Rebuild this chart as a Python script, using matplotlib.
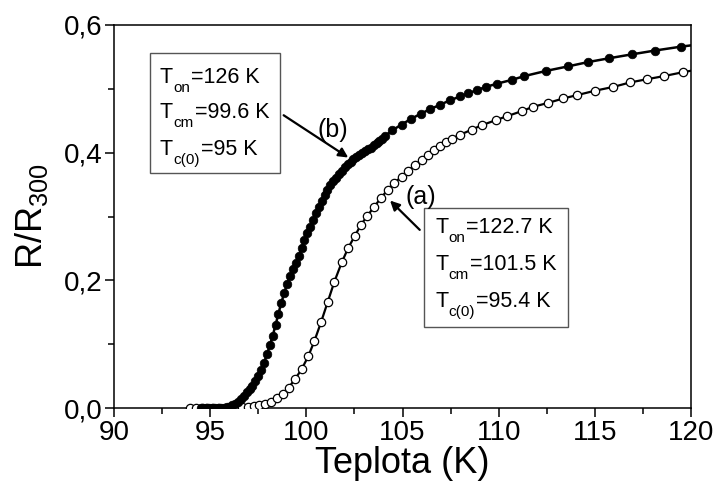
import matplotlib
matplotlib.use("Agg")
import matplotlib.pyplot as plt
from matplotlib.patches import Rectangle

# ---------------- data ----------------
T_b = [94.5, 94.65, 94.8, 94.95, 95.1, 95.25, 95.4, 95.55, 95.7, 95.85,
       96.0, 96.15, 96.3, 96.45, 96.6, 96.75, 96.9, 97.05, 97.2, 97.35,
       97.5, 97.65, 97.8, 97.95, 98.1, 98.25, 98.4, 98.55, 98.7, 98.85,
       99.0, 99.15, 99.3, 99.45, 99.6, 99.75, 99.9, 100.05, 100.2, 100.35,
       100.5, 100.65, 100.8, 100.95, 101.1, 101.25, 101.4, 101.55, 101.7, 101.85,
       102.0, 102.15, 102.3, 102.45, 102.6, 102.75, 102.9, 103.05, 103.2, 103.35,
       103.5, 103.65, 103.8, 103.95, 104.1,
       104.47, 104.95, 105.45, 105.95, 106.43, 106.95, 107.47, 107.99, 108.42, 108.86,
       109.34, 109.9, 110.68, 111.34, 112.45, 113.58, 114.66, 115.76, 116.92, 118.13,
       119.46, 120.5]
R_b = [0.0, 0.0, 0.0, 0.0, 0.0, 0.0, 0.0, 0.0, 0.0, 0.001,
       0.002, 0.004, 0.007, 0.010, 0.014, 0.019, 0.025, 0.030, 0.035, 0.042,
       0.050, 0.060, 0.071, 0.084, 0.098, 0.113, 0.130, 0.148, 0.165, 0.180,
       0.195, 0.207, 0.217, 0.227, 0.238, 0.251, 0.263, 0.274, 0.284, 0.295,
       0.305, 0.315, 0.325, 0.334, 0.342, 0.349, 0.355, 0.361, 0.367, 0.372,
       0.377, 0.382, 0.386, 0.390, 0.393, 0.396, 0.399, 0.402, 0.405, 0.408,
       0.412, 0.415, 0.419, 0.422, 0.426,
       0.435, 0.444, 0.453, 0.461, 0.468, 0.475, 0.482, 0.488, 0.493, 0.498,
       0.503, 0.508, 0.514, 0.520, 0.528, 0.535, 0.542, 0.548, 0.554, 0.560,
       0.566, 0.570]

T_a = [93.95, 94.25, 94.55, 94.85, 95.15, 95.45, 95.75, 96.05, 96.35, 96.65,
       96.98, 97.28, 97.55, 97.85, 98.15, 98.46, 98.77, 99.08, 99.41, 99.76,
       100.1, 100.42, 100.76, 101.11, 101.46, 101.84, 102.18, 102.53, 102.84, 103.17,
       103.52, 103.88, 104.23, 104.57, 104.96, 105.3, 105.65, 106.0, 106.34, 106.64,
       106.95, 107.26, 107.56, 107.99, 108.6, 109.12, 109.86, 110.42, 111.2, 111.8,
       112.58, 113.36, 114.06, 115.0, 115.96, 116.83, 117.7, 118.6, 119.57, 120.5]
R_a = [0.0, 0.0, 0.0, 0.0, 0.0, 0.0, 0.0, 0.0, 0.0, 0.001,
       0.002, 0.003, 0.005, 0.007, 0.010, 0.015, 0.022, 0.032, 0.045, 0.061,
       0.081, 0.105, 0.134, 0.166, 0.198, 0.228, 0.251, 0.270, 0.287, 0.301,
       0.315, 0.329, 0.342, 0.353, 0.362, 0.372, 0.381, 0.389, 0.397, 0.404,
       0.410, 0.416, 0.422, 0.428, 0.436, 0.443, 0.451, 0.457, 0.465, 0.472,
       0.478, 0.485, 0.490, 0.497, 0.503, 0.510, 0.515, 0.520, 0.526, 0.531]

x_ticks = [90, 95, 100, 105, 110, 115, 120]
y_ticks = [0.0, 0.2, 0.4, 0.6]
y_tick_labels = ["0,0", "0,2", "0,4", "0,6"]

# (main letter, subscript, rest)
box_b_lines = [("T", "on", "=126 K"),
               ("T", "cm", "=99.6 K"),
               ("T", "c(0)", "=95 K")]
box_a_lines = [("T", "on", "=122.7 K"),
               ("T", "cm", "=101.5 K"),
               ("T", "c(0)", "=95.4 K")]

# ---------------- plot ----------------
plt.rcParams['font.family'] = ['Liberation Sans', 'DejaVu Sans']
plt.rcParams['mathtext.fontset'] = 'custom'
plt.rcParams['mathtext.rm'] = 'Liberation Sans'
plt.rcParams['mathtext.it'] = 'Liberation Sans'

fig = plt.figure(figsize=(7.17, 4.84), dpi=100)
ax = fig.add_axes([114/717, 1-408/484, (691-114)/717, (408-25)/484])

ax.plot(T_a, R_a, color='black', lw=1.6, marker='o', ms=6.0,
        mfc='white', mec='black', mew=0.9, zorder=3)
ax.plot(T_b, R_b, color='black', lw=1.8, marker='o', ms=6.2,
        mfc='black', mec='black', mew=0.5, zorder=4)

ax.set_xlim(90, 120)
ax.set_ylim(0, 0.6)
ax.set_xticks(x_ticks)
ax.set_xticks([92.5, 97.5, 102.5, 107.5, 112.5, 117.5], minor=True)
ax.set_yticks(y_ticks)
ax.set_yticklabels(y_tick_labels)
ax.set_yticks([0.1, 0.3, 0.5], minor=True)
ax.tick_params(which='major', direction='out', length=6.5, width=1.1,
               labelsize=20, pad=2, top=False, right=False)
ax.tick_params(which='minor', direction='out', length=4, width=1.1,
               top=False, right=False)
for s in ax.spines.values():
    s.set_linewidth(1.1)

ax.set_xlabel("Teplota (K)", fontsize=26, labelpad=0)
ax.set_ylabel(r"R/R$_{\mathregular{300}}$", fontsize=26, labelpad=10)


def sub_line(x, y, parts, fs=15.5, sfs=11):
    main, sub, rest = parts
    t1 = ax.text(x, y, main, fontsize=fs, ha='left', va='baseline', zorder=6)
    t2 = ax.annotate(sub, xy=(1, 0), xycoords=t1, xytext=(0.5, -2.5),
                     textcoords='offset points', fontsize=sfs,
                     ha='left', va='baseline', zorder=6)
    fig.canvas.draw()
    bb1 = t1.get_window_extent()
    bb2 = t2.get_window_extent()
    inv = ax.transData.inverted()
    xr, _ = inv.transform((bb2.x1 + 0.5, bb1.y0))
    ax.text(xr, y, rest, fontsize=fs, ha='left', va='baseline', zorder=6)


# annotation boxes (data coordinates)
ax.add_patch(Rectangle((91.87, 0.368), 98.63 - 91.87, 0.556 - 0.368,
                       fill=False, ec='#555555', lw=1.0, zorder=5))
for parts, y in zip(box_b_lines, [0.509, 0.454, 0.396]):
    sub_line(92.39, y, parts)

ax.add_patch(Rectangle((106.12, 0.127), 113.6 - 106.12, 0.313 - 0.127,
                       fill=False, ec='#555555', lw=1.0, zorder=5))
for parts, y in zip(box_a_lines, [0.274, 0.216, 0.158]):
    sub_line(106.69, y, parts)

# arrows
ax.annotate("", xy=(102.3, 0.390), xytext=(98.7, 0.461),
            arrowprops=dict(arrowstyle='-|>', color='black', lw=1.6,
                            mutation_scale=14), zorder=6)
ax.annotate("", xy=(104.25, 0.328), xytext=(106.0, 0.276),
            arrowprops=dict(arrowstyle='-|>', color='black', lw=1.6,
                            mutation_scale=14), zorder=6)
ax.text(101.4, 0.435, "(b)", fontsize=18, ha='center', va='center', zorder=6)
ax.text(105.95, 0.330, "(a)", fontsize=18, ha='center', va='center', zorder=6)

fig.savefig("out.png", dpi=100)
